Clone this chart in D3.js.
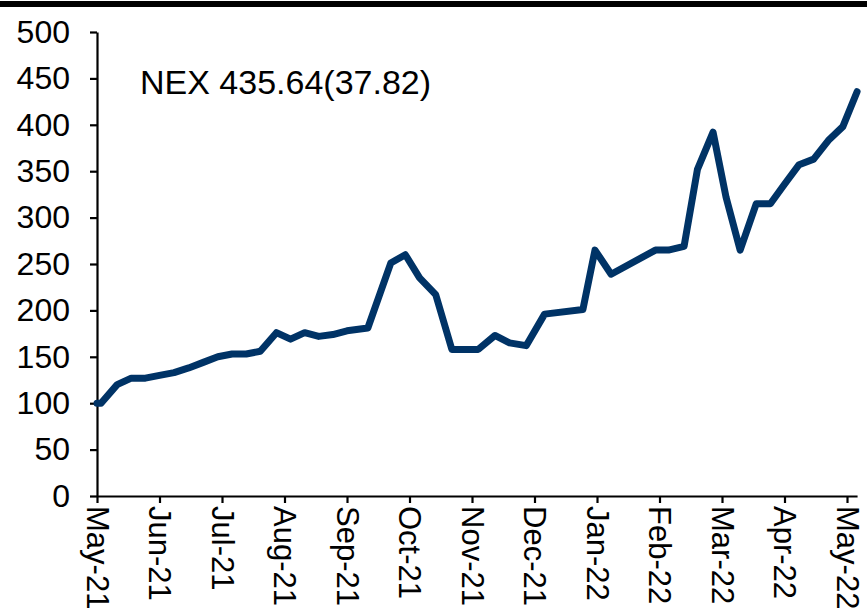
<!DOCTYPE html>
<html>
<head>
<meta charset="utf-8">
<script src="https://cdn.jsdelivr.net/npm/d3@7"></script>
<style>
  body { margin: 0; background: #fff; }
  svg { display: block; }
</style>
</head>
<body>
<div id="chart"></div>
<script>
// weekly-ish NEX readings
let dates = ["2021-05-01","2021-05-03","2021-05-11","2021-05-18","2021-05-25","2021-06-01","2021-06-08",
    "2021-06-15","2021-06-22","2021-06-29","2021-07-06","2021-07-13","2021-07-20","2021-07-28","2021-08-04",
    "2021-08-11","2021-08-18","2021-08-25","2021-09-01","2021-09-11","2021-09-22","2021-09-29","2021-10-06",
    "2021-10-14","2021-10-22","2021-11-04","2021-11-12","2021-11-19","2021-11-27","2021-12-06","2021-12-25",
    "2021-12-31","2022-01-08","2022-01-30","2022-02-05","2022-02-12","2022-02-18","2022-02-25","2022-03-03",
    "2022-03-10","2022-03-18","2022-03-25","2022-04-01","2022-04-08","2022-04-15","2022-04-22","2022-04-29",
    "2022-05-06"];
let values = [100, 100, 120, 127, 127, 130, 133,
    138, 144, 150, 153, 153, 156, 176, 169,
    176, 172, 174, 178, 181, 251, 260, 235,
    217, 158, 158, 173, 165, 162, 196, 201,
    265, 239, 265, 265, 269, 352, 392, 322,
    265, 315, 315, 336, 357, 363, 383, 398,
    435.64];
let monthLabels = ["May-21","Jun-21","Jul-21","Aug-21","Sep-21","Oct-21","Nov-21",
    "Dec-21","Jan-22","Feb-22","Mar-22","Apr-22","May-22"];
let yTicks = [0, 50, 100, 150, 200, 250, 300, 350, 400, 450, 500];
let annotation = "NEX 435.64(37.82)";

let chartW = 867, chartH = 611;
let padLeft = 97, axisY = 496, plotTop = 32;
let monthWidth = 62.5;
let font = "'Liberation Sans', Arial, sans-serif";

// months elapsed since May 2021, each month equally wide
function monthPos(s) {
    let d = d3.timeParse("%Y-%m-%d")(s);
    let days = new Date(d.getFullYear(), d.getMonth() + 1, 0).getDate();
    return (d.getFullYear() - 2021) * 12 + d.getMonth() - 4 + (d.getDate() - 1) / days;
}

let data = dates.map(function (d, i) { return [monthPos(d), values[i]]; });
let lastPos = data[data.length - 1][0];

let svg = d3.select("#chart").append("svg")
    .attr("width", chartW)
    .attr("height", chartH);

svg.append("rect")
    .attr("x", 0).attr("y", 1)
    .attr("width", chartW).attr("height", 6)
    .attr("fill", "#000");

let x = d3.scaleLinear()
    .domain([0, lastPos])
    .range([padLeft, padLeft + monthWidth * lastPos]);

let y = d3.scaleLinear()
    .domain([0, 500])
    .range([axisY, plotTop]);

let yAxis = svg.append("g")
    .attr("transform", "translate(" + padLeft + ",0)")
    .call(d3.axisLeft(y).tickValues(yTicks).tickSize(7).tickPadding(20).tickSizeOuter(0));

let xAxis = svg.append("g")
    .attr("transform", "translate(0," + axisY + ")")
    .call(d3.axisBottom(x)
        .tickValues(d3.range(monthLabels.length))
        .tickFormat(function (d) { return monthLabels[d]; })
        .tickSize(7)
        .tickSizeOuter(0));

yAxis.attr("font-family", font).attr("font-size", 32);
xAxis.attr("font-family", font).attr("font-size", 31);
[yAxis, xAxis].forEach(function (g) {
    g.selectAll("path, line").attr("stroke", "#000").attr("stroke-width", 2.2);
    g.selectAll("text").attr("fill", "#000");
});

xAxis.selectAll("text")
    .attr("y", 0)
    .attr("x", 10)
    .attr("dy", "0.35em")
    .attr("transform", "rotate(90)")
    .style("text-anchor", "start");

let line = d3.line()
    .x(function (d) { return x(d[0]); })
    .y(function (d) { return y(d[1]); });

svg.append("path")
    .datum(data)
    .attr("d", line)
    .attr("fill", "none")
    .attr("stroke", "#003366")
    .attr("stroke-width", 7)
    .attr("stroke-linejoin", "round")
    .attr("stroke-linecap", "round");

svg.append("text")
    .attr("x", 140)
    .attr("y", 94)
    .attr("font-family", font)
    .attr("font-size", 34)
    .attr("fill", "#000")
    .text(annotation);
</script>
</body>
</html>
